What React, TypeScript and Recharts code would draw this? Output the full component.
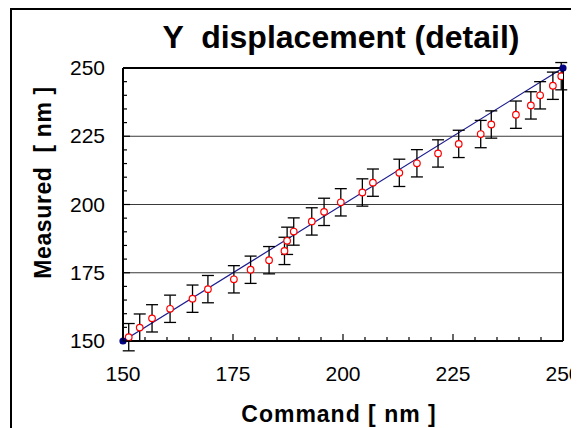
import React from 'react'
import {
  ComposedChart, Line, Scatter, ErrorBar, XAxis, YAxis, ReferenceLine,
} from 'recharts'

/* ────────────────────────────────────────────────────────
   Data
───────────────────────────────────────────────────────── */
const COMMAND = [
  151.3, 153.8, 156.6, 160.7, 165.8, 169.3, 175.2, 179.0, 183.2, 186.7,
  187.3, 188.8, 192.9, 195.7, 199.5, 204.4, 206.8, 212.8, 216.8, 221.6,
  226.3, 231.3, 233.7, 239.3, 242.7, 244.8, 247.7, 249.6,
]
const MEASURED = [
  151.4, 154.9, 158.3, 161.8, 165.5, 169.0, 172.6, 176.1, 179.6, 183.0,
  186.7, 190.1, 193.8, 197.3, 200.8, 204.4, 208.0, 211.6, 215.1, 218.7,
  222.2, 225.8, 229.3, 232.9, 236.3, 240.0, 243.5, 247.0,
]
const ERROR = 5

const IDEAL_X = [150, 250]
const IDEAL_Y = [150, 250]

const X_TICKS = [150, 155, 160, 165, 170, 175, 180, 185, 190, 195, 200, 205, 210, 215, 220, 225, 230, 235, 240, 245, 250]
const Y_TICKS = [150, 155, 160, 165, 170, 175, 180, 185, 190, 195, 200, 205, 210, 215, 220, 225, 230, 235, 240, 245, 250]
const MAJOR_STEP = 25
const GRID_Y = [175, 200, 225]

const measured = COMMAND.map((x, i) => ({ x, y: MEASURED[i], err: ERROR }))
const ideal = IDEAL_X.map((x, i) => ({ x, y: IDEAL_Y[i] }))

const FONT = 'Arial, "Liberation Sans", sans-serif'
const PRE = { whiteSpace: 'pre' as const }

/* ────────────────────────────────────────────────────────
   Ticks (drawn inside the plot, labels outside)
───────────────────────────────────────────────────────── */
function XTick({ x, y, payload }: any) {
  const major = payload.value % MAJOR_STEP === 0
  return (
    <g>
      <line x1={x} y1={y} x2={x} y2={y - (major ? 7 : 4)} stroke="#000" strokeWidth={1.2} />
      {major && (
        <text x={x} y={y + 40} textAnchor="middle" fontSize={21} fontFamily={FONT} fill="#000">
          {payload.value}
        </text>
      )}
    </g>
  )
}

function YTick({ x, y, payload }: any) {
  const major = payload.value % MAJOR_STEP === 0
  return (
    <g>
      <line x1={x} y1={y} x2={x + (major ? 7 : 4)} y2={y} stroke="#000" strokeWidth={1.2} />
      {major && (
        <text x={x - 18} y={y + 7} textAnchor="end" fontSize={21} fontFamily={FONT} fill="#000">
          {payload.value}
        </text>
      )}
    </g>
  )
}

const OpenCircle = ({ cx, cy }: any) => (
  <circle cx={cx} cy={cy} r={3.3} fill="#fff" stroke="#ff0000" strokeWidth={1.2} />
)

export default function App() {
  return (
    <div style={{ position: 'relative', width: 571, height: 420, overflow: 'hidden', background: '#fff' }}>
      <div
        style={{
          position: 'absolute', left: 2, top: 0, width: 569, height: 420,
          borderLeft: '2px solid #000', borderTop: '2px solid #000', boxSizing: 'border-box',
        }}
      />
      <div style={{ position: 'absolute', left: 0, top: 0 }}>
        <ComposedChart width={571} height={420} margin={{ top: 60, right: 16, bottom: 47, left: 55 }}>
          <XAxis
            type="number" dataKey="x" domain={[150, 250]} ticks={X_TICKS} allowDataOverflow
            interval={0} height={40} tickSize={0} tickMargin={0} tickLine={false}
            axisLine={{ stroke: '#000', strokeWidth: 2 }} tick={<XTick />}
          />
          <YAxis
            type="number" dataKey="y" domain={[150, 250]} ticks={Y_TICKS} allowDataOverflow
            interval={0} width={60} tickSize={0} tickMargin={0} tickLine={false}
            axisLine={{ stroke: '#000', strokeWidth: 2 }} tick={<YTick />}
          />
          {GRID_Y.map(v => (
            <ReferenceLine key={v} y={v} stroke="#3a3a3a" strokeWidth={1} />
          ))}
          <ReferenceLine y={250} stroke="#000" strokeWidth={2} />
          <ReferenceLine x={250} stroke="#000" strokeWidth={2} />
          <Line
            data={ideal} dataKey="y" type="linear" stroke="#1c1c8f" strokeWidth={1.2}
            dot={{ r: 3, fill: '#000080', stroke: '#000080', clipDot: false }}
            isAnimationActive={false}
          />
          <Scatter data={measured} dataKey="y" shape={<OpenCircle />} isAnimationActive={false}>
            <ErrorBar dataKey="err" direction="y" width={6} stroke="#000" strokeWidth={1.3} />
          </Scatter>
        </ComposedChart>
      </div>
      <svg width={571} height={420} style={{ position: 'absolute', left: 0, top: 0, pointerEvents: 'none' }}>
        <text x={333} y={40} textAnchor="middle" fontSize={32} fontWeight="bold" fontFamily={FONT} fill="#000" style={PRE}>
          {'Y  displacement (detail)'}
        </text>
        <text x={331} y={414} textAnchor="middle" fontSize={23} fontWeight="bold" fontFamily={FONT} letterSpacing={1} fill="#000" style={PRE}>
          {'Command [ nm ]'}
        </text>
        <text
          transform="translate(43,174.5) rotate(-90)" textAnchor="middle" fontSize={23}
          fontWeight="bold" fontFamily={FONT} letterSpacing={0.6} fill="#000" style={PRE}
        >
          {'Measured  [ nm ]'}
        </text>
      </svg>
    </div>
  )
}
